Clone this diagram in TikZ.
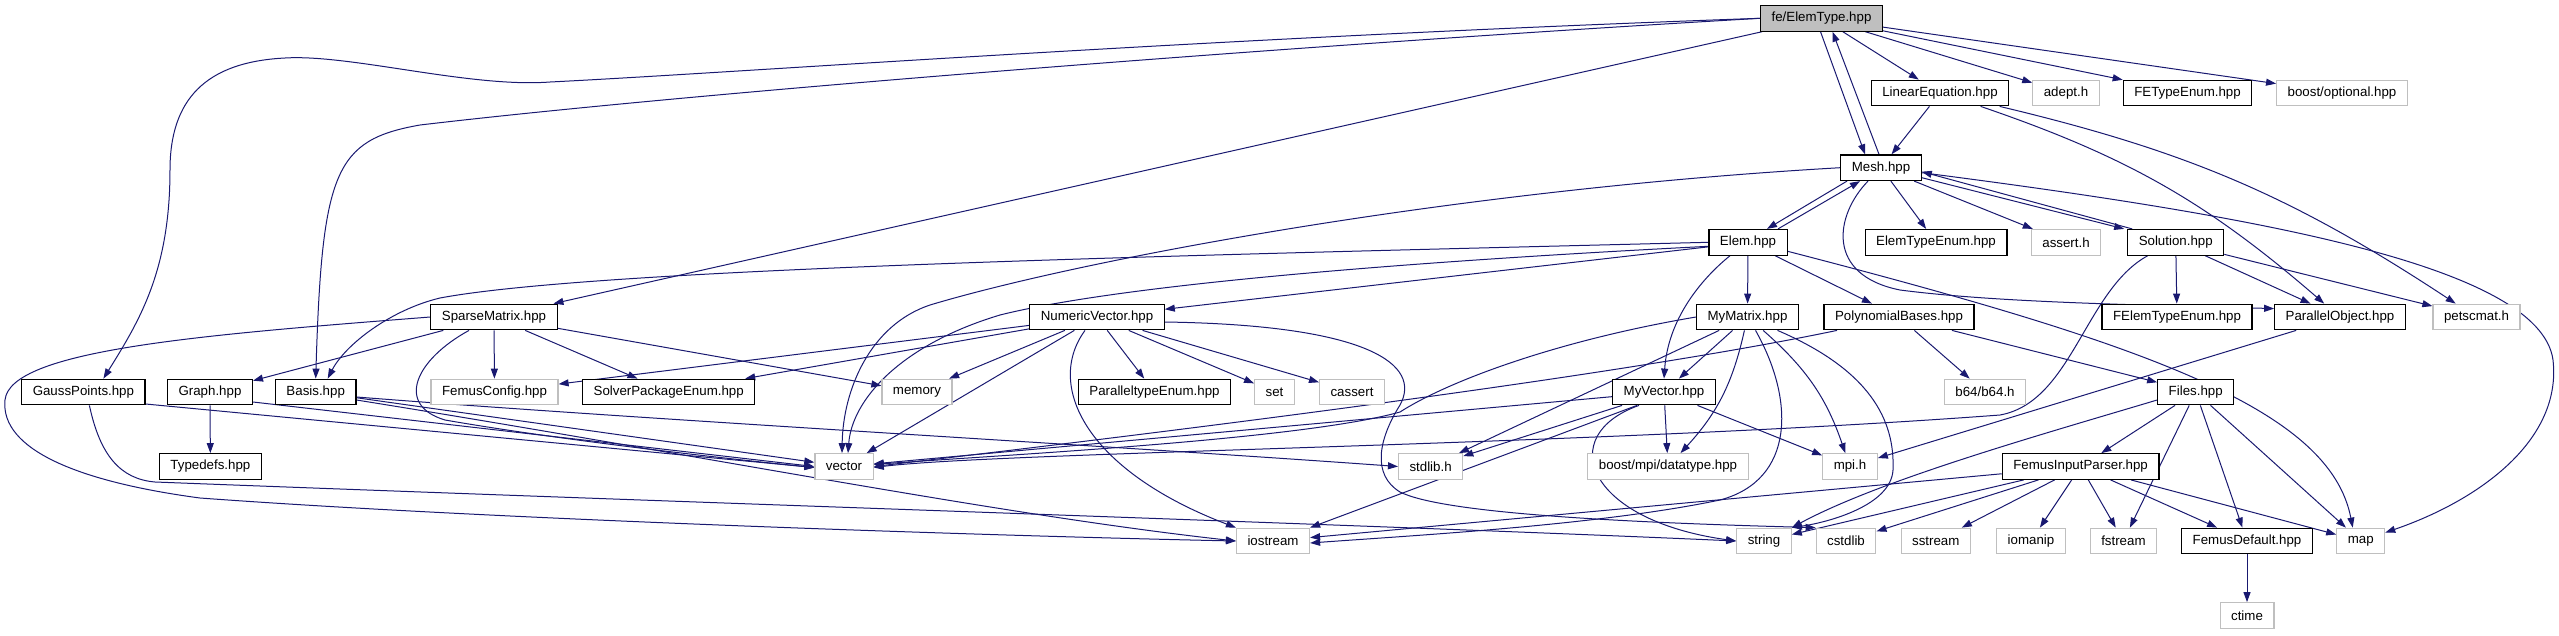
\documentclass[tikz,border=0pt]{standalone}
\usepackage{fontspec}
\setmainfont{Liberation Sans}
\usepackage{tikz}
\usetikzlibrary{arrows.meta, backgrounds}
\definecolor{cEdge}{RGB}{25,25,112}
\definecolor{cGrayBox}{RGB}{191,191,191}
\tikzset{
	hdr/.style    ={rectangle, draw=black, line width=1.2pt, fill=white, minimum height=25.6pt, inner xsep=11pt, inner ysep=0pt, font=\fontsize{13.3}{16}\selectfont},
	syshdr/.style ={hdr, draw=cGrayBox},
	roothdr/.style={hdr, fill=cGrayBox},
	% include edges
	dep/.style    ={draw=cEdge, line width=1pt, -{Triangle[length=10pt, width=7pt]}},
}

\begin{document}
\begin{tikzpicture}[x=1pt, y=-1pt]
\useasboundingbox (0,0) rectangle (2559,635);
\node[roothdr] (root) at (1821.5,18.3) {fe/ElemType.hpp};
\node[hdr] (lineq) at (1940,93) {LinearEquation.hpp};
\node[syshdr] (adept) at (2066,93) {adept.h};
\node[hdr] (fetype) at (2187.5,93) {FETypeEnum.hpp};
\node[syshdr] (boostopt) at (2342,93) {boost/optional.hpp};
\node[hdr] (mesh) at (1881,167.7) {Mesh.hpp};
\node[hdr] (elem) at (1748,242.3) {Elem.hpp};
\node[hdr] (elemtypeenum) at (1936,242.3) {ElemTypeEnum.hpp};
\node[syshdr] (assert) at (2066,242.3) {assert.h};
\node[hdr] (solution) at (2175.7,242.3) {Solution.hpp};
\node[hdr] (sparse) at (494,317) {SparseMatrix.hpp};
\node[hdr] (numvec) at (1097,317) {NumericVector.hpp};
\node[hdr] (mymatrix) at (1747.5,317) {MyMatrix.hpp};
\node[hdr] (polybases) at (1899,317) {PolynomialBases.hpp};
\node[hdr] (felemtype) at (2177,317) {FElemTypeEnum.hpp};
\node[hdr] (parobj) at (2340,317) {ParallelObject.hpp};
\node[syshdr] (petsc) at (2476.5,317) {petscmat.h};
\node[hdr] (gauss) at (83.4,392) {GaussPoints.hpp};
\node[hdr] (graph) at (210,392) {Graph.hpp};
\node[hdr] (basis) at (315.7,392) {Basis.hpp};
\node[syshdr] (femusconfig) at (494.5,392) {FemusConfig.hpp};
\node[hdr] (solverpkg) at (668.7,392) {SolverPackageEnum.hpp};
\node[syshdr] (memory) at (917,392) {memory};
\node[hdr] (partype) at (1154.5,392) {ParalleltypeEnum.hpp};
\node[syshdr] (set) at (1274.5,392) {set};
\node[syshdr] (cassert) at (1352,392) {cassert};
\node[hdr] (myvector) at (1664,392) {MyVector.hpp};
\node[syshdr] (b64) at (1985,392) {b64/b64.h};
\node[hdr] (files) at (2195.7,392) {Files.hpp};
\node[hdr] (typedefs) at (210.4,466.5) {Typedefs.hpp};
\node[syshdr] (vector) at (844,466.5) {vector};
\node[syshdr] (stdlib) at (1430.6,466.5) {stdlib.h};
\node[syshdr] (boostmpi) at (1668,466.5) {boost/mpi/datatype.hpp};
\node[syshdr] (mpih) at (1850,466.5) {mpi.h};
\node[hdr] (parser) at (2080.6,466.5) {FemusInputParser.hpp};
\node[syshdr] (iostream) at (1273,541) {iostream};
\node[syshdr] (string) at (1764,541) {string};
\node[syshdr] (cstdlib) at (1846,541) {cstdlib};
\node[syshdr] (sstream) at (1935.8,541) {sstream};
\node[syshdr] (iomanip) at (2031,541) {iomanip};
\node[syshdr] (fstream) at (2123.4,541) {fstream};
\node[hdr] (femusdef) at (2247,541) {FemusDefault.hpp};
\node[syshdr] (map) at (2360.7,541) {map};
\node[syshdr] (ctime) at (2247,615.5) {ctime};
\begin{scope}[on background layer]
% fe/ElemType.hpp
\draw[dep] (root) -- (lineq);
\draw[dep] (root) -- (adept);
\draw[dep] (root) -- (fetype);
\draw[dep] (root) -- (boostopt);
\draw[dep] ([xshift=-1pt]root.south) -- ([xshift=-16pt]mesh.north);
\draw[dep] (root) -- (sparse);
\draw[dep] (root.west) .. controls (1200,38) and (750,72) .. (550,82) .. controls (470,88) and (350,54) .. (285,58) .. controls (205,62) and (170,100) .. (170,170) .. controls (170,270) and (140,320) .. ([xshift=20pt]gauss.north);
\draw[dep] (root.west) .. controls (1300,45) and (700,92) .. (420,125) .. controls (335,140) and (322,170) .. (basis.north);
\draw[dep] (lineq) to[bend left=11] (parobj);
\draw[dep] (lineq) to[bend left=10] (petsc);
\draw[dep] (lineq) -- (mesh);
% Mesh.hpp
\draw[dep] ([xshift=-2pt]mesh.north) -- ([xshift=11pt]root.south);
\draw[dep] ([xshift=-34pt]mesh.south) -- ([xshift=19pt]elem.north);
\draw[dep] (mesh) -- (elemtypeenum);
\draw[dep] (mesh) -- (assert);
\draw[dep] ([yshift=-10pt]mesh.east) -- ([xshift=-3pt]solution.north west);
\draw[dep] ([yshift=-5pt]mesh.east) .. controls (2250,215) and (2540,265) .. (2553,360) .. controls (2562,440) and (2480,500) .. (map);
\draw[dep] (mesh.west) .. controls (1450,190) and (1080,260) .. (930,305) .. controls (870,325) and (843,390) .. ([xshift=-2pt]vector.north);
\draw[dep] ([xshift=-13pt]mesh.south) .. controls (1835,215) and (1825,275) .. (1900,290) .. controls (2000,303) and (2150,305) .. ([yshift=-5pt]parobj.north west);
% Elem.hpp
\draw[dep] ([xshift=30pt]elem.north) -- ([xshift=-21pt]mesh.south);
\draw[dep] (elem) -- (mymatrix);
\draw[dep] (elem) -- (polybases);
\draw[dep] ([xshift=-18pt]elem.south) .. controls (1700,280) and (1668,320) .. (myvector.north);
\draw[dep] ([yshift=-9pt]elem.east) .. controls (2150,345) and (2330,410) .. ([xshift=-8pt]map.north);
\draw[dep] (elem.west) .. controls (1200,255) and (600,268) .. (440,298) .. controls (390,310) and (345,345) .. ([xshift=12pt]basis.north);
\draw[dep] (elem) -- (numvec);
\draw[dep] ([yshift=-4pt]elem.west) .. controls (1400,262) and (1120,285) .. (1000,315) .. controls (900,345) and (852,400) .. ([xshift=4pt]vector.north);
% Solution.hpp
\draw[dep] ([xshift=5pt]solution.north west) -- ([yshift=-4pt]mesh.east);
\draw[dep] (solution) -- (felemtype);
\draw[dep] (solution) -- (parobj);
\draw[dep] (solution) -- (petsc);
\draw[dep] ([xshift=-28pt]solution.south) .. controls (2085,290) and (2072,402) .. (2000,415) .. controls (1600,445) and (1000,452) .. ([yshift=-1pt]vector.east);
\draw[dep] (parobj) -- (mpih);
% PolynomialBases.hpp, MyMatrix.hpp, MyVector.hpp
\draw[dep] (polybases) -- (b64);
\draw[dep] (polybases) -- (files);
\draw[dep] ([xshift=-62pt]polybases.south) .. controls (1600,380) and (1100,440) .. (vector.east);
\draw[dep] (mymatrix) -- (myvector);
\draw[dep] (mymatrix) -- (stdlib);
\draw[dep] (mymatrix) to[bend left=15] (boostmpi);
\draw[dep] (mymatrix) to[bend left=15] (mpih);
\draw[dep] (mymatrix.west) .. controls (1560,340) and (1450,380) .. (1400,412) .. controls (1300,440) and (1000,455) .. ([yshift=2pt]vector.east);
\draw[dep] ([xshift=30pt]mymatrix.south) .. controls (1870,370) and (1895,420) .. (1893,470) .. controls (1891,505) and (1830,522) .. (string.north east);
\draw[dep] ([xshift=8pt]mymatrix.south) .. controls (1795,400) and (1795,480) .. (1720,500) .. controls (1600,525) and (1420,535) .. ([yshift=-2pt]iostream.east);
\draw[dep] (myvector) -- (stdlib);
\draw[dep] (myvector) -- (boostmpi);
\draw[dep] (myvector) -- (mpih);
\draw[dep] ([xshift=-27pt]myvector.south) -- (iostream.north east);
\draw[dep] ([xshift=-25pt]myvector.south) .. controls (1555,435) and (1585,520) .. (string.west);
\draw[dep] (myvector) -- (vector);
% Files.hpp, FemusInputParser.hpp
\draw[dep] (files) -- (parser);
\draw[dep] (files) -- (fstream);
\draw[dep] (files) -- (femusdef);
\draw[dep] (files) -- (map);
\draw[dep] ([yshift=-8pt]files.west) .. controls (2040,435) and (1880,480) .. (string.north east);
\draw[dep] (parser) -- (iostream);
\draw[dep] (parser) -- (string);
\draw[dep] (parser) -- (cstdlib);
\draw[dep] (parser) -- (sstream);
\draw[dep] (parser) -- (iomanip);
\draw[dep] (parser) -- (fstream);
\draw[dep] (parser) -- (femusdef);
\draw[dep] (parser) -- (map);
\draw[dep] (femusdef) -- (ctime);
% NumericVector.hpp
\draw[dep] (numvec) -- (femusconfig);
\draw[dep] (numvec) -- (solverpkg);
\draw[dep] (numvec) -- (memory);
\draw[dep] (numvec) -- (vector);
\draw[dep] (numvec) -- (partype);
\draw[dep] (numvec) -- (set);
\draw[dep] (numvec) -- (cassert);
\draw[dep] ([xshift=-12pt]numvec.south) .. controls (1045,385) and (1085,470) .. (iostream.north west);
\draw[dep] ([yshift=-5pt]numvec.east) .. controls (1370,325) and (1422,365) .. (1400,405) .. controls (1378,440) and (1372,475) .. (1400,492) .. controls (1440,512) and (1600,522) .. (cstdlib.north west);
% SparseMatrix.hpp and the left part
\draw[dep] (sparse) -- (graph);
\draw[dep] (sparse) -- (femusconfig);
\draw[dep] (sparse) -- (solverpkg);
\draw[dep] (sparse) -- (memory);
\draw[dep] ([xshift=-25pt]sparse.south) .. controls (415,360) and (395,405) .. (445,420) .. controls (560,440) and (720,458) .. ([yshift=-1pt]vector.west);
\draw[dep] (sparse.west) .. controls (200,335) and (10,350) .. (5,400) .. controls (0,450) and (80,482) .. (200,498) .. controls (500,520) and (1000,536) .. (iostream.west);
\draw[dep] ([yshift=-12pt]gauss.east) -- ([yshift=-1pt]vector.west);
\draw[dep] ([xshift=6pt]gauss.south) .. controls (100,455) and (120,479) .. (155,482) .. controls (700,503) and (1400,526) .. (string.west);
\draw[dep] (graph) -- (typedefs);
\draw[dep] ([yshift=-10pt]graph.east) -- (vector.west);
\draw[dep] (basis) -- (vector);
\draw[dep] ([yshift=-8pt]basis.east) .. controls (700,455) and (1000,515) .. (iostream.west);
\draw[dep] ([yshift=-5pt]basis.east) .. controls (650,420) and (1100,445) .. (stdlib.west);
\end{scope}
\end{tikzpicture}
\end{document}
